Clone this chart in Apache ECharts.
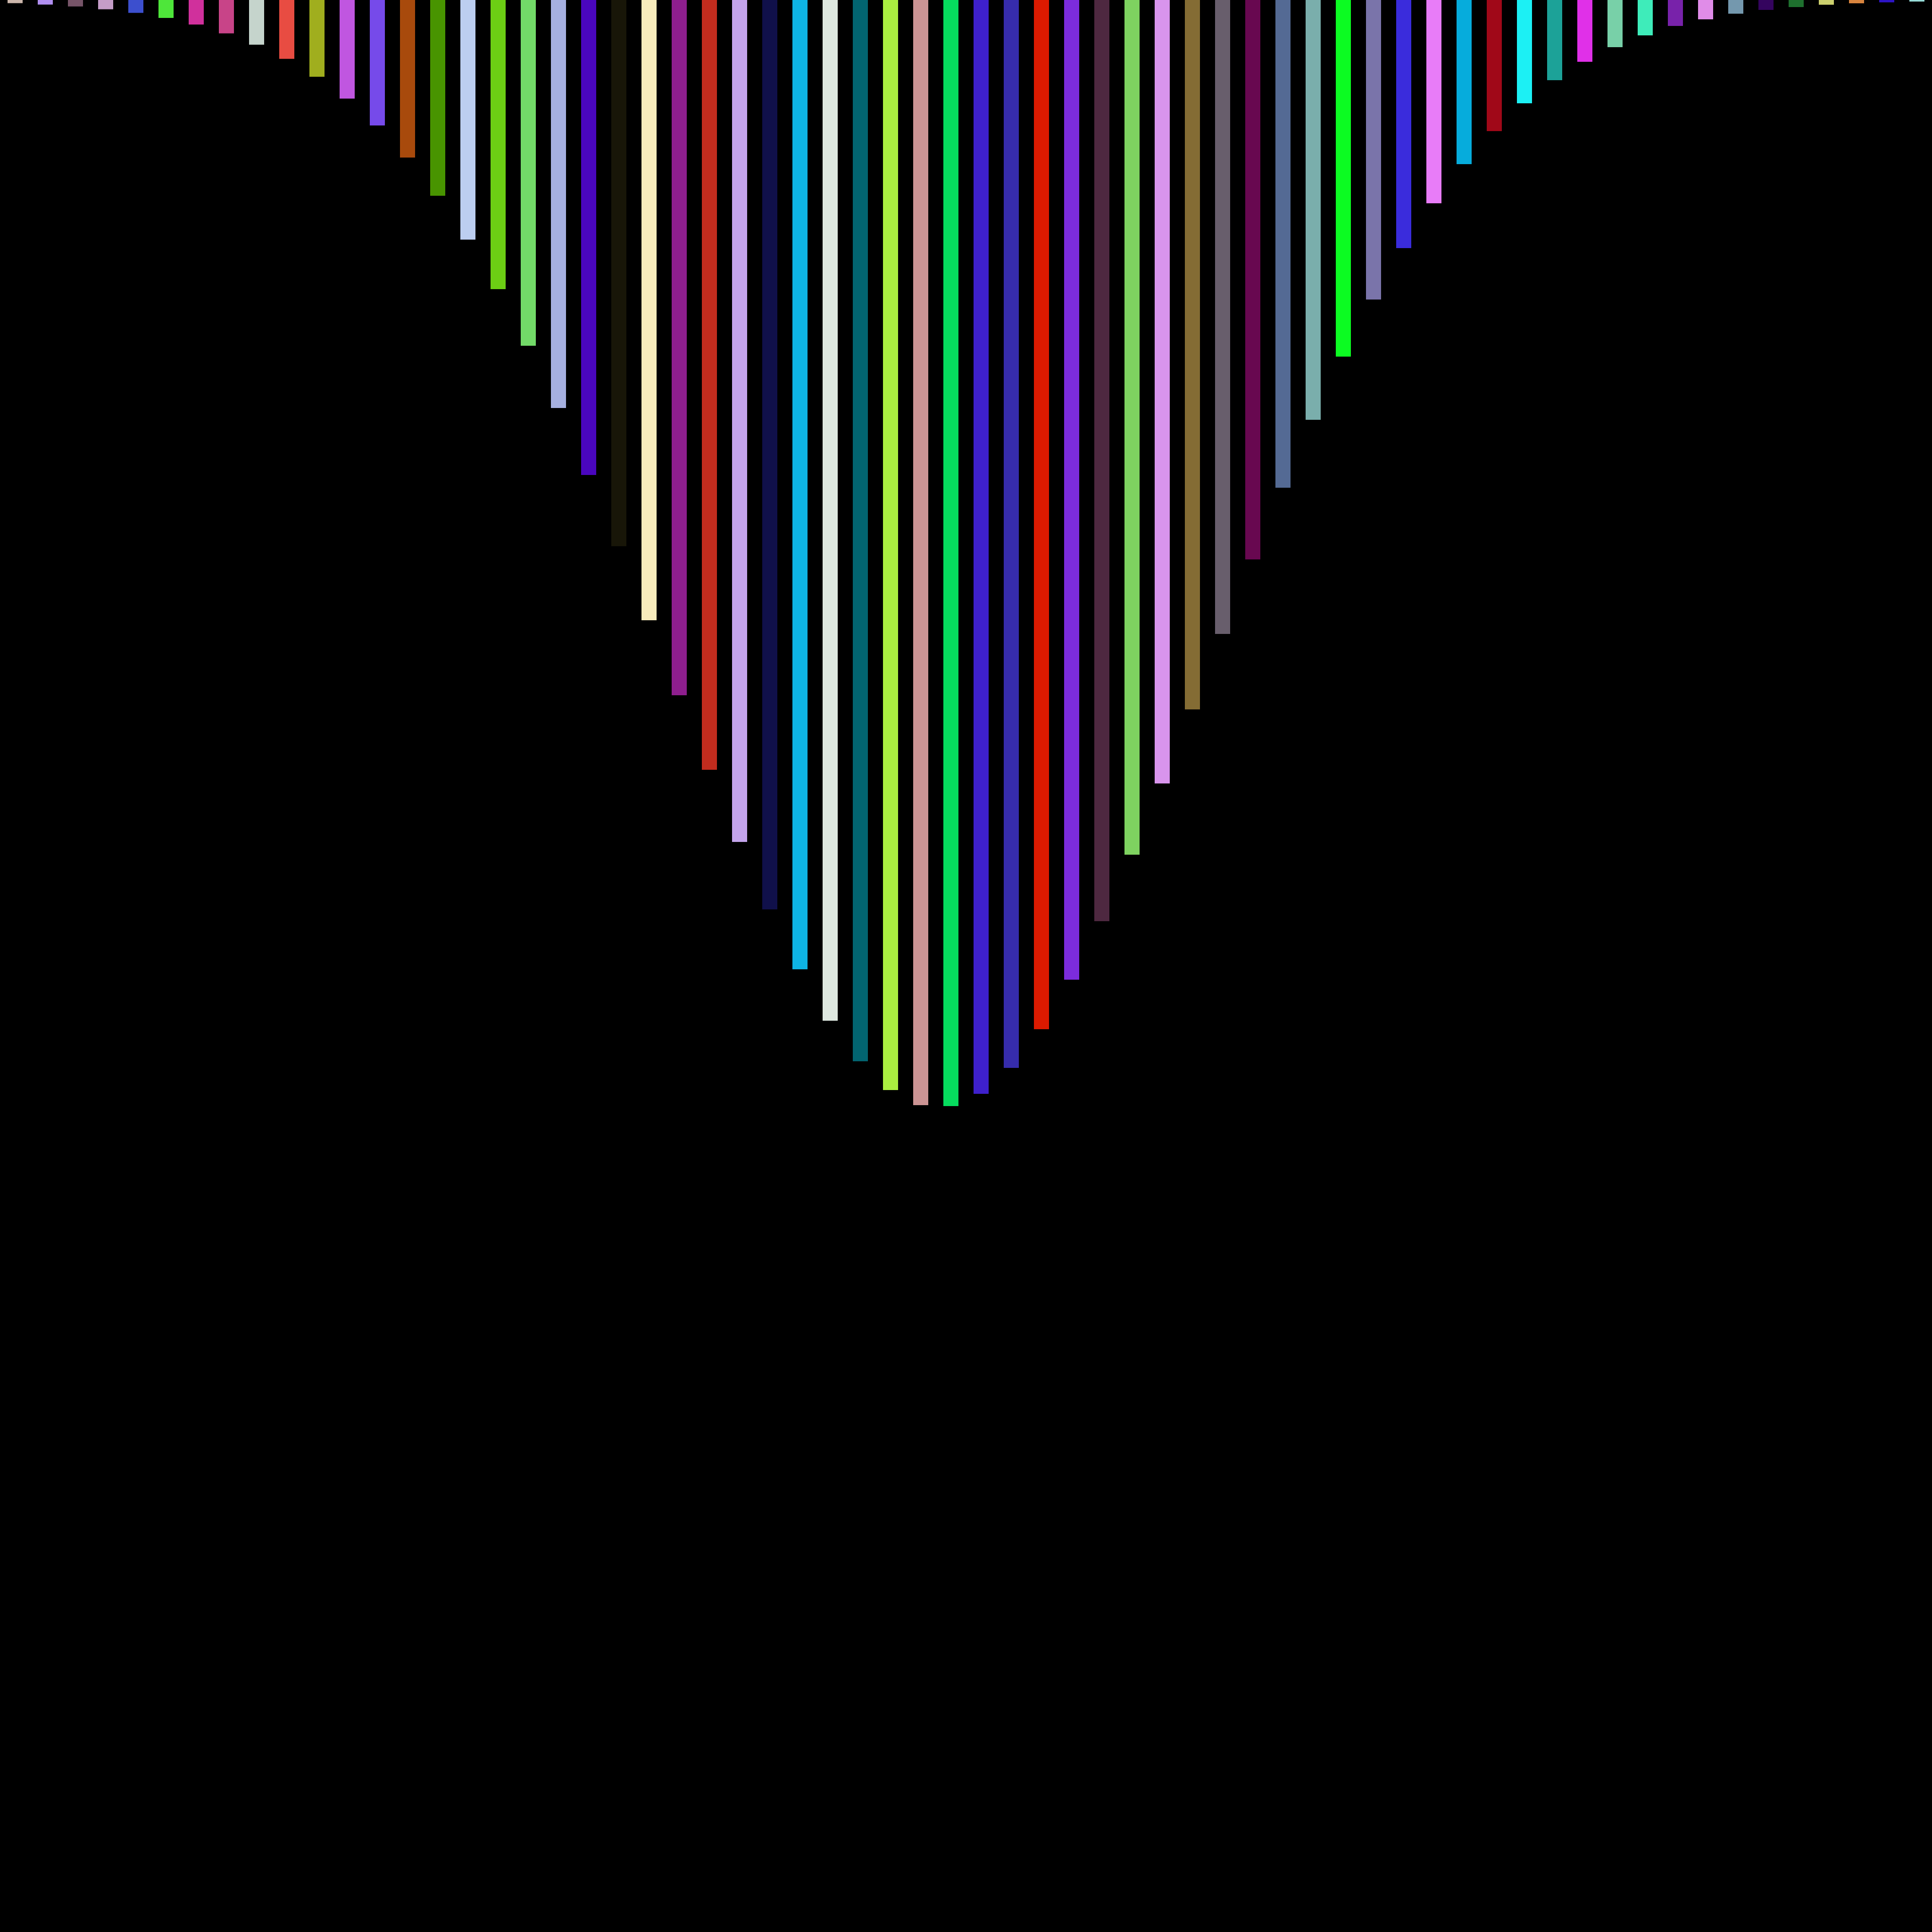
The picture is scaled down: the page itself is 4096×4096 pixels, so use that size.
<!DOCTYPE html>
<html>
<head>
<meta charset="utf-8">
<script src="https://cdn.jsdelivr.net/npm/echarts@6/dist/echarts.min.js"></script>
<style>
  html, body { margin: 0; padding: 0; background: #000000; }
  #chart { width: 4096px; height: 4096px; }
</style>
</head>
<body>
<div id="chart"></div>
<script>
// Categories (64 bars)
const categories = [];
for (let i = 0; i < 64; i++) categories.push(String(i + 1));

// Bar lengths (value axis runs 0..4096, top to bottom)
const values = [
  6.7, 9.7, 13.7, 19.7, 27.3, 38, 52, 70.7, 94.7, 124.7,
  162.7, 209, 266, 334, 415, 508, 613, 733, 865, 1007,
  1158, 1315, 1474, 1632, 1785, 1928, 2055, 2164, 2250, 2311,
  2343, 2345, 2319, 2264, 2182, 2077, 1953, 1812, 1661, 1504,
  1344, 1186, 1034, 890, 756, 635, 526, 431, 348, 278,
  219, 170, 131, 100, 75, 55, 41, 29, 21, 15,
  10, 7, 5, 3.3
];

// One colour per bar
const colors = [
  '#cbb6ab', '#b08ef0', '#765468', '#c59dc8', '#3c4fce', '#4ee63a', '#d0309c', '#c84488',
  '#c5d4cc', '#e84c42', '#a0ae1e', '#c056e0', '#764aea', '#a84a0c', '#489400', '#bccef0',
  '#6cce14', '#72da68', '#a6b0e0', '#4a06be', '#181608', '#f8ecbc', '#8e1e8e', '#c22c1e',
  '#c4a4ec', '#10104a', '#0eb4e4', '#dee8e0', '#026470', '#aaee40', '#cc9494', '#06dc5e',
  '#3e20cc', '#362cac', '#dc1a00', '#7c2cdc', '#4e2840', '#7ed260', '#d894ec', '#846c34',
  '#685e6c', '#680850', '#546a94', '#7aaeac', '#0cfc22', '#7a74aa', '#3a2cdc', '#e87cf8',
  '#06acdc', '#a00818', '#1cf0f4', '#1ca298', '#e030e8', '#78d0a8', '#3eecba', '#7822aa',
  '#e08ce8', '#7498ae', '#34045e', '#1e702e', '#ccd06e', '#d8843e', '#2c14c4', '#98dcd8'
];

const chart = echarts.init(document.getElementById('chart'), null, { renderer: 'canvas' });
chart.setOption({
  backgroundColor: '#000000',
  animation: false,
  grid: { left: 0, right: 0, top: 0, bottom: 0, containLabel: false },
  xAxis: {
    type: 'category',
    data: categories,
    show: false,
    boundaryGap: true
  },
  yAxis: {
    type: 'value',
    inverse: true,
    min: 0,
    max: 4096,
    show: false,
    splitLine: { show: false }
  },
  series: [{
    type: 'bar',
    barWidth: '50%',
    data: values.map((v, i) => ({ value: v, itemStyle: { color: colors[i] } }))
  }]
});
</script>
</body>
</html>
